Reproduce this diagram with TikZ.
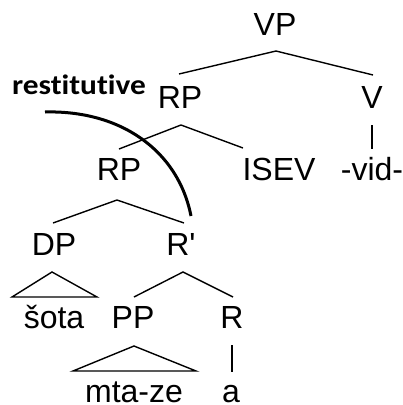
\documentclass[tikz,border=0pt]{standalone}
\usepackage{fontspec}
\newfontfamily\arial{Liberation Sans}
\newfontfamily\labfont{Carlito}[Ligatures={NoCommon}]
\begin{document}
\begin{tikzpicture}[x=1pt,y=-1pt,
  every node/.style={font=\arial\fontsize{32}{38}\selectfont, inner sep=0pt, anchor=base},
  branch/.style={line width=1.4pt, line join=miter},
  arcline/.style={line width=3pt}]
\useasboundingbox (0,0) rectangle (403,405);
% nodes
\node (VP) at (275,35) {VP};
\node (RP1) at (180,108) {RP};
\node (V) at (372,108) {V};
\node (RP2) at (119,180) {RP};
\node (ISEV) at (279,180) {ISEV};
\node (vid) at (372,180) {-vid-};
\node (DP) at (54,255) {DP};
\node (Rbar) at (181,255) {R'};
\node (sota) at (54,328) {šota};
\node (PP) at (133,328) {PP};
\node (R) at (232,328) {R};
\node (mtaze) at (134,402) {mta-ze};
\node (a) at (231,402) {a};
\node[font=\labfont\bfseries\fontsize{28}{32}\selectfont] (rest) at (79,94) {\scalebox{1.12}[1]{restitutive}};
% branch coordinates
\coordinate (VPb) at (276,51);
\coordinate (RP1t) at (179,74);
\coordinate (Vt) at (373,75);
\coordinate (RP1b) at (181,125);
\coordinate (RP2t) at (119,149);
\coordinate (ISEVt) at (243,148);
\coordinate (Vb) at (372,125);
\coordinate (vidt) at (372,149);
\coordinate (RP2b) at (117,200);
\coordinate (DPt) at (53,223);
\coordinate (Rbart) at (184,223);
\coordinate (DPb) at (52,272);
\coordinate (sotaL) at (12,297);
\coordinate (sotaR) at (97,297);
\coordinate (Rbarb) at (183,272);
\coordinate (PPt) at (134,297);
\coordinate (Rt) at (233,297);
\coordinate (PPb) at (134,346);
\coordinate (mtL) at (73,371);
\coordinate (mtR) at (196,371);
\coordinate (Rb) at (232,345);
\coordinate (at) at (232,372);
\coordinate (cs) at (45,112);
\coordinate (ce) at (191,216);
% branches
\draw[branch] (RP1t) -- (VPb) -- (Vt);
\draw[branch] (RP2t) -- (RP1b) -- (ISEVt);
\draw[branch] (Vb) -- (vidt);
\draw[branch] (DPt) -- (RP2b) -- (Rbart);
\draw[branch] (sotaL) -- (DPb) -- (sotaR) -- cycle;
\draw[branch] (PPt) -- (Rbarb) -- (Rt);
\draw[branch] (mtL) -- (PPb) -- (mtR) -- cycle;
\draw[branch] (Rb) -- (at);
% restitutive arc
\draw[arcline] (cs) .. controls (120,110) and (178,150) .. (ce);
\end{tikzpicture}
\end{document}
